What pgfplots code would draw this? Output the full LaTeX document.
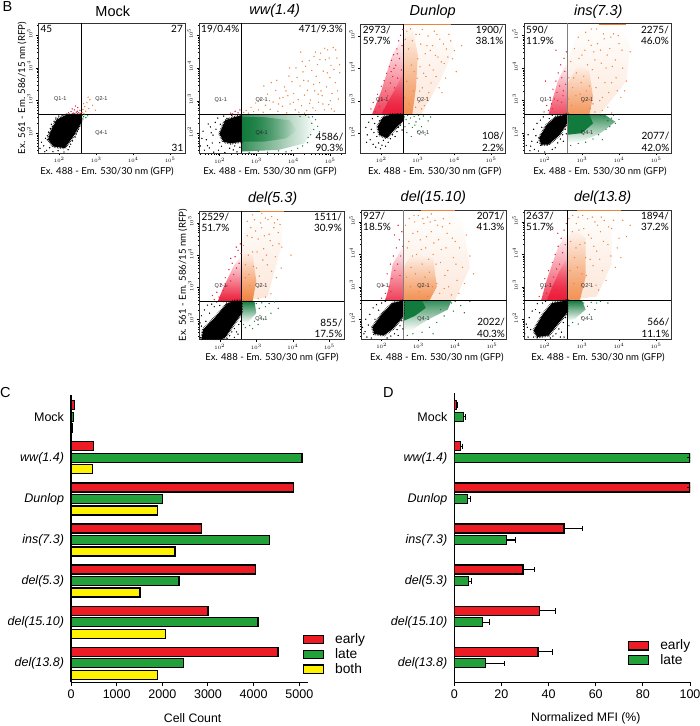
\documentclass[border=0pt]{standalone}
\usepackage{fontspec}
\setmainfont{Liberation Sans}
\newfontfamily\myr{Lato}
\usepackage{pgfplots}
\usetikzlibrary{fadings}
\pgfplotsset{compat=1.18}
% Flow panels: axes are in log10 units, ticks labelled 10^k. Clouds are hand-estimated
% sketches (density regions and representative dots), not the original events.
\definecolor{bred}{HTML}{ED1C24}
\definecolor{bgreen}{HTML}{22A03A}
\definecolor{byel}{HTML}{FFF200}
\definecolor{sred}{HTML}{EC1C3A}
\definecolor{sor}{HTML}{F0813A}
\definecolor{sgr}{HTML}{127A3C}
\newcommand{\fs}[1]{\fontsize{#1}{#1}\selectfont}
\pgfplotsset{
 flow/.style n args={7}{scale only axis,anchor=south west,at={(#1pt,#2pt)},width=#3pt,height=#4pt,
  xmin=1.44,xmax=5.4,ymin=1.39,ymax=5.37,
  xtick={2,3,4,5},xticklabels={$10^2$,$10^3$,$10^4$,$10^5$},
  ytick={2,3,4,5},yticklabels={$10^2$,$10^3$,$10^4$,$10^5$},
  minor xtick={1.48,1.6,1.7,1.78,1.85,1.9,1.95,2.3,2.48,2.6,2.7,2.78,2.85,2.9,2.95,3.3,3.48,3.6,3.7,3.78,3.85,3.9,3.95,4.3,4.48,4.6,4.7,4.78,4.85,4.9,4.95,5.3},
  minor ytick={1.48,1.6,1.7,1.78,1.85,1.9,1.95,2.3,2.48,2.6,2.7,2.78,2.85,2.9,2.95,3.3,3.48,3.6,3.7,3.78,3.85,3.9,3.95,4.3,4.48,4.6,4.7,4.78,4.85,4.9,4.95,5.3},
  tick align=outside,xtick pos=bottom,ytick pos=left,major tick length=2.5pt,minor tick length=1.2pt,
  tick style={line width=.35pt,black},
  axis line style={line width=.7pt,black!80},
  tick label style={font=\fs{5.5}},xticklabel style={yshift=1.5pt},
  yticklabel style={rotate=90,anchor=south,xshift=1.5pt},
  title={#5},title style={at={(axis description cs:.5,1)},anchor=center,yshift=6pt,xshift=#6pt,font=\fs{14.5}},
  xlabel={Ex. 488 - Em. 530/30 nm (GFP)},
  xlabel style={at={(axis description cs:.5,0)},anchor=center,yshift=-18pt,xshift=#7pt,font=\myr\fs{9.6}},
 },
 rfp/.style={ylabel={Ex. 561 - Em. 586/15 nm (RFP)},
  ylabel style={at={(axis description cs:0,.5)},anchor=center,yshift=16.5pt,font=\myr\fs{9.6}}},
 up/.style={fill=#1,draw=none,forget plot,path fading=north},
 dn/.style={fill=#1,draw=none,forget plot,path fading=south},
 ri/.style={fill=#1,draw=none,forget plot,path fading=east},
 kc/.style={fill=black,draw=black,line width=2.6pt,dash pattern=on .5pt off 1.1pt,forget plot},
 k/.style={only marks,mark=*,mark size=.42pt,black,forget plot},
 r/.style={only marks,mark=*,mark size=.42pt,sred,forget plot},
 o/.style={only marks,mark=*,mark size=.42pt,sor,forget plot},
 g/.style={only marks,mark=*,mark size=.4pt,sgr,forget plot},
 bars/.style={scale only axis,anchor=south west,xbar,bar width=9pt,
  axis x line*=bottom,axis y line*=left,
  axis line style={line width=1.2pt,black},
  ymin=-.462,ytick={0,1,2,3,4,5,6},
  yticklabels={\itshape del(13.8),\itshape del(15.10),\itshape del(5.3),\itshape ins(7.3),\itshape Dunlop,\itshape ww(1.4),Mock},
  tick align=outside,ytick style={draw=none},xtick style={line width=1pt,black},major tick length=3.5pt,
  y tick label style={font=\fs{12.5}},x tick label style={font=\fs{12.5}},
  /pgf/number format/1000 sep={},/pgf/number format/assume math mode=true,
  xlabel style={font=\fs{12.3},anchor=center},
  enlargelimits=false,legend cell align=left},
 lg/.style={legend image code/.code={\draw[fill=#1,draw=black,line width=1.3pt] (0pt,-4.2pt) rectangle (20pt,4.2pt);}},
 ser/.style={draw=black,line width=1.3pt,fill=#1,lg=#1},
}
\newcommand{\gate}[1][black]{\addplot[#1,line width=.75pt,forget plot] coordinates {(2.6,1.39)(2.6,5.37)};
 \addplot[black,line width=.75pt,forget plot] coordinates {(1.44,2.58)(5.4,2.58)};}
\newcommand{\qq}[3]{%
 \node[font=\fs{5.5},text=black!85] at (axis cs:2.03,3.03) {Q1-1};
 \node[font=\fs{5.5},text=black!85] at (axis cs:3.14,3.03) {Q2-1};
 \node[font=\fs{5.5},text=black!85] at (axis cs:3.14,2.01) {Q4-1};
 \node[anchor=north west,align=left,font=\myr\fontsize{10}{11.3}\selectfont,inner sep=2pt] at (rel axis cs:0,1) {#1};
 \node[anchor=north east,align=right,font=\myr\fontsize{10}{11.3}\selectfont,inner sep=2pt] at (rel axis cs:1,1) {#2};
 \node[anchor=south east,align=right,font=\myr\fontsize{10}{11.3}\selectfont,inner sep=1.5pt] at (rel axis cs:1,0) {#3};}
\begin{document}
\begin{tikzpicture}[x=1pt,y=1pt]
\path[use as bounding box] (0,0) rectangle (700,726);
\node[anchor=west,font=\fs{14.5}] at (-1,719) {B};
\node[anchor=west,font=\fs{14.5},inner sep=0pt] at (0,333.5) {C};
\node[anchor=west,font=\fs{14.5},inner sep=0pt] at (383,333.5) {D};

% Mock
\begin{axis}[flow={38.5}{573}{146.5}{130}{Mock}{1}{-4.7},rfp]
\addplot[kc] coordinates {(1.75,2)(1.93,2.41)(2.2,2.56)(2.59,2.58)(2.59,2.31)(2.38,1.9)(2.15,1.54)(1.84,1.59)(1.7,1.8)} --cycle;
\addplot[k] coordinates {(1.52,1.72)(1.58,1.61)(1.63,1.84)(1.66,1.47)(1.71,2.03)(1.74,1.55)(1.79,2.27)(1.83,1.43)(1.86,2.36)(1.91,2.46)(1.97,1.46)(1.99,2.52)(2.08,2.55)(2.13,1.42)(2.24,1.49)(2.31,1.66)(2.36,1.76)(2.43,1.88)(2.49,2.05)(2.54,2.21)(2.57,2.37)(1.48,1.53)(1.68,1.92)(1.76,2.14)(2.28,1.58)(1.61,1.43)(2.46,1.97)(2.52,2.12)(1.82,2.19)(1.9,2.33)};
\addplot[r] coordinates {(2.25,2.62)(2.32,2.66)(2.38,2.61)(2.41,2.71)(2.46,2.64)(2.5,2.78)(2.53,2.62)(2.56,2.7)(2.44,2.83)(2.58,2.6)(2.35,2.74)(2.49,2.67)};
\addplot[o] coordinates {(2.62,2.63)(2.64,2.72)(2.67,2.6)(2.69,2.81)(2.72,2.67)(2.75,2.93)(2.8,2.75)(2.83,3.02)(2.9,2.85)(2.98,2.7)(2.66,2.9)(2.78,3.1)};
\addplot[g] coordinates {(2.62,2.55)(2.66,2.5)(2.69,2.56)(2.72,2.47)(2.64,2.43)(2.77,2.53)};
\gate
\qq{45}{27}{31}
\end{axis}

% ww(1.4)
\begin{axis}[flow={199}{572.5}{146}{130.5}{\itshape ww(1.4)}{2.7}{-2}]
\addplot[kc] coordinates {(2.0,2.0)(2.15,2.4)(2.4,2.5)(2.6,2.55)(2.6,1.75)(2.3,1.7)(2.1,1.75)} --cycle;
\addplot[ri=sgr,fill opacity=.85] coordinates {(2.6,2.58)(4.4,2.58)(4.6,2.2)(4.3,1.7)(3.6,1.5)(2.6,1.45)} --cycle;
\addplot[ri=sgr] coordinates {(2.6,2.5)(3.2,2.5)(3.9,2.4)(4.1,2.1)(3.8,1.85)(3.2,1.75)(2.6,1.75)} --cycle;
\addplot[k] coordinates {(1.48,1.62)(1.55,2.07)(1.59,1.49)(1.64,1.81)(1.69,2.29)(1.72,1.56)(1.77,2.02)(1.8,1.71)(1.84,1.43)(1.88,2.34)(1.9,2.13)(1.95,2.47)(1.97,1.49)(2.02,2.28)(2.05,1.61)(2.11,2.53)(2.14,1.42)(2.2,2.46)(2.27,1.55)(2.33,2.55)(2.41,1.62)(2.47,1.44)(2.55,1.58)(2.58,2.56)(1.52,1.85)(1.67,1.63)(1.75,2.2)(1.82,1.95)(2.0,1.72)(2.37,1.5)};
\addplot[g] coordinates {(4.42,2.5)(4.5,2.31)(4.55,2.12)(4.6,2.42)(4.47,1.96)(4.38,1.72)(4.25,1.62)(4.12,1.55)(3.95,1.48)(3.8,1.44)(3.6,1.47)(3.3,1.43)(4.66,2.22)(4.33,2.55)(4.71,2.05)(3.05,1.46)(2.8,1.43)(4.18,2.52)(4.4,1.88)(4.52,2.51)};
\addplot[o] coordinates {(2.65,2.64)(2.72,2.7)(2.78,2.62)(2.85,2.8)(2.92,2.67)(2.98,2.93)(3.05,2.72)(3.11,3.05)(3.18,2.65)(3.24,2.86)(3.3,3.2)(3.37,2.74)(3.45,2.96)(3.52,3.31)(3.58,2.68)(3.63,3.08)(3.7,2.83)(3.76,3.42)(3.82,2.63)(3.85,3.15)(3.91,2.9)(3.96,3.58)(4.01,3.22)(4.05,2.72)(4.1,3.71)(4.13,3.03)(4.18,3.45)(4.22,2.85)(4.26,3.88)(4.3,3.17)(4.33,4.05)(4.36,2.7)(4.4,3.6)(4.43,4.22)(4.46,3.02)(4.5,3.92)(4.53,2.78)(4.56,4.35)(4.58,3.3)(4.62,3.74)(4.65,4.1)(4.68,2.95)(4.71,3.55)(4.74,4.45)(4.78,3.15)(4.81,3.9)(4.84,2.72)(4.87,4.25)(4.9,3.42)(4.93,4.55)(4.96,2.88)(4.99,3.7)(5.02,4.08)(5.05,3.22)(5.08,4.62)(5.11,2.68)(5.14,3.55)(5.18,4.3)(5.22,3.05)(5.26,3.85)(3.4,3.55)(3.6,2.9)(3.9,4.0)(4.2,4.48)(4.0,2.95)(4.3,2.62)(3.2,3.45)(4.75,3.3)(5.0,3.0)(4.6,2.7)(3.55,3.62)(3.72,3.1)(3.88,3.75)(4.07,4.0)(4.15,2.65)(4.24,4.2)(4.38,3.32)(4.44,2.92)(4.55,3.5)(4.6,4.48)(4.67,3.2)(4.72,4.25)(4.8,2.9)(4.85,4.6)(4.92,3.85)(4.97,4.3)(5.03,2.75)(5.1,3.95)(5.15,4.55)(5.2,3.3)(5.25,4.1)(4.28,3.62)(3.35,3.0)(3.8,3.3)};
\addplot[r] coordinates {(2.3,2.62)(2.42,2.68)(2.5,2.63)(2.55,2.72)(2.35,2.6)};
\gate
\qq{19/0.4\%}{471/9.3\%}{4586/\\90.3\%}
\end{axis}

% Dunlop
\begin{axis}[flow={360.7}{573}{145}{129}{\itshape Dunlop}{-.5}{1.5}]
\addplot[up=sred,fill opacity=.85] coordinates {(1.75,2.58)(2.6,2.58)(2.6,5.0)(2.3,4.4)(2.0,3.3)} --cycle;
\addplot[up=sred] coordinates {(2.0,2.58)(2.6,2.58)(2.6,3.9)(2.45,3.5)(2.2,3.0)} --cycle;
\addplot[up=sor,fill opacity=.2] coordinates {(2.6,2.58)(3.1,2.6)(3.6,3.6)(4.0,4.6)(3.8,5.37)(2.6,5.37)} --cycle;
\addplot[up=sor,fill opacity=.85] coordinates {(2.6,2.58)(2.85,2.58)(2.95,3.4)(3.0,4.4)(2.85,5.3)(2.6,5.37)} --cycle;
\addplot[kc] coordinates {(1.9,2.2)(2.05,2.5)(2.3,2.58)(2.6,2.58)(2.6,2.4)(2.35,2.1)(2.15,1.85)(1.95,1.95)} --cycle;
\addplot[k] coordinates {(1.58,2.18)(1.62,1.95)(1.66,2.34)(1.7,1.8)(1.73,2.12)(1.76,2.45)(1.78,1.66)(1.82,2.3)(1.85,1.57)(1.88,1.9)(1.91,2.52)(1.93,1.7)(1.98,1.52)(2.02,1.63)(2.06,1.78)(2.12,1.6)(2.19,1.72)(2.25,1.83)(2.31,1.95)(2.38,1.9)(2.43,2.05)(2.47,2.18)(2.53,2.25)(2.57,2.1)(1.8,2.02)(1.95,2.38)(2.0,2.28)(2.15,1.9)(2.45,2.32)(1.6,1.72)};
\addplot[r] coordinates {(1.72,2.75)(1.78,2.95)(1.84,2.66)(1.9,3.2)(1.95,2.82)(2.0,3.45)(2.03,3.05)(2.08,3.62)(2.12,3.3)(2.15,3.85)(2.19,2.95)(2.22,4.05)(2.25,3.55)(2.28,4.25)(2.31,3.75)(2.34,4.42)(2.37,3.4)(2.4,4.1)(2.43,4.6)(2.45,3.7)(2.48,4.85)(2.5,4.3)(2.53,5.02)(2.55,3.95)(2.57,4.7)(2.59,5.2)(2.18,3.15)(2.27,3.9)(2.35,4.0)(2.44,4.45)};
\addplot[o] coordinates {(2.66,4.9)(2.7,5.15)(2.75,4.6)(2.8,5.22)(2.85,4.85)(2.9,3.9)(2.95,5.05)(3.0,4.3)(3.05,3.3)(3.08,4.75)(3.12,5.2)(3.16,3.85)(3.2,4.45)(3.24,3.1)(3.28,5.0)(3.32,4.1)(3.36,3.55)(3.4,4.7)(3.45,5.15)(3.5,3.75)(3.55,4.35)(3.6,4.9)(3.66,3.25)(3.72,4.15)(3.78,4.6)(3.85,5.05)(3.95,4.3)(4.05,3.9)(4.2,4.7)(3.1,2.75)(2.64,3.1)(2.7,3.6)(2.76,2.9)(2.82,4.1)(2.88,3.3)(2.94,2.8)(2.98,3.7)(3.02,2.95)(3.06,4.05)(3.12,3.4)(3.18,2.85)(3.22,3.75)(3.3,3.25)(3.34,4.55)(3.42,3.95)(3.48,4.4)(3.58,3.4)(3.64,4.2)(3.7,4.75)(3.76,3.7)(3.82,4.35)(3.9,4.85)(4.0,4.55)(3.52,5.05)(3.25,4.7)(3.05,5.05)};
\addplot[sor,line width=1pt,forget plot] coordinates {(2.62,5.35)(3.9,5.35)};
\addplot[g] coordinates {(2.63,2.5)(2.68,2.42)(2.72,2.55)(2.76,2.3)(2.8,2.47)(2.85,2.18)(2.9,2.52)(2.95,2.35)(3.0,2.05)(3.05,2.44)(3.1,2.2)(3.15,2.53)(3.2,1.95)(3.28,2.38)(2.65,2.2)(2.7,2.02)(2.82,1.9)(2.92,2.25)(3.35,2.5)(3.02,2.55)};
\gate
\qq{2973/\\59.7\%}{1900/\\38.1\%}{108/\\2.2\%}
\end{axis}

% ins(7.3)
\begin{axis}[flow={524}{573}{147}{129.5}{\itshape ins(7.3)}{.8}{2.5}]
\addplot[up=sred,fill opacity=.8] coordinates {(2.1,2.58)(2.6,2.58)(2.6,4.2)(2.35,3.6)(2.2,3.0)} --cycle;
\addplot[up=sor,fill opacity=.18] coordinates {(2.6,2.58)(3.5,2.6)(4.2,3.6)(4.3,4.7)(4,5.37)(3,5.37)(2.6,4.2)} --cycle;
\addplot[up=sor,fill opacity=.8] coordinates {(2.6,2.58)(3.2,2.58)(3.3,3.1)(3.2,3.9)(2.9,4.1)(2.6,3.5)} --cycle;
\addplot[dn=sgr,fill opacity=.85] coordinates {(2.6,2.58)(3.6,2.58)(3.9,2.35)(3.5,2.0)(3.0,1.75)(2.6,1.7)} --cycle;
\addplot[fill=sgr,draw=none,forget plot] coordinates {(2.6,2.58)(3.2,2.58)(3.3,2.3)(3.0,2.0)(2.6,1.95)} --cycle;
\addplot[kc] coordinates {(1.85,1.85)(2.05,2.25)(2.3,2.5)(2.6,2.58)(2.6,2.3)(2.4,1.95)(2.1,1.65)(1.9,1.65)} --cycle;
\addplot[k] coordinates {(1.5,1.62)(1.55,1.95)(1.6,1.46)(1.65,1.75)(1.7,2.12)(1.72,1.5)(1.76,1.92)(1.79,2.3)(1.83,1.45)(1.88,2.4)(1.92,2.18)(1.96,2.5)(2.0,1.42)(2.12,2.45)(2.2,2.55)(2.28,1.55)(2.35,1.7)(2.42,1.82)(2.48,1.95)(2.55,2.12)(2.58,1.98)(2.2,1.5)(1.62,1.6)(1.8,1.72)(2.5,1.75)};
\addplot[r] coordinates {(1.98,2.65)(2.05,2.85)(2.1,2.7)(2.14,3.1)(2.18,2.9)(2.22,3.35)(2.26,3.05)(2.3,3.6)(2.33,3.25)(2.36,3.85)(2.4,3.45)(2.43,4.1)(2.46,3.7)(2.49,3.15)(2.52,4.3)(2.54,3.9)(2.56,3.5)(2.58,4.5)(2.3,4.55)(2.02,3.6)(2.2,2.75)(2.35,3.0)(2.5,3.3)(2.45,2.95)};
\addplot[o] coordinates {(2.65,3.7)(2.7,4.2)(2.75,3.4)(2.8,4.6)(2.85,3.85)(2.9,4.95)(2.95,3.2)(3.0,4.4)(3.05,3.75)(3.1,5.1)(3.15,4.1)(3.2,3.45)(3.25,4.7)(3.3,2.9)(3.35,4.25)(3.4,5.2)(3.45,3.7)(3.5,4.55)(3.55,3.1)(3.6,4.9)(3.65,4.0)(3.7,2.8)(3.75,4.6)(3.8,3.55)(3.85,5.05)(3.9,4.25)(3.95,3.3)(4.0,4.75)(4.1,4.0)(4.2,3.6)(4.3,4.5)(3.35,2.65)(3.55,2.7)(3.8,2.62)(4.05,3.1)(2.64,3.05)(2.72,2.85)(2.78,3.7)(2.84,3.15)(2.92,4.3)(2.98,3.55)(3.02,2.95)(3.08,4.55)(3.12,3.3)(3.18,4.85)(3.22,2.75)(3.28,3.95)(3.32,4.5)(3.38,3.4)(3.42,4.75)(3.48,3.0)(3.52,4.15)(3.58,5.05)(3.62,3.55)(3.68,4.4)(3.72,3.25)(3.78,4.95)(3.82,4.05)(3.92,3.7)(3.98,5.0)(4.08,4.55)(4.15,3.3)(3.25,5.2)};
\addplot[sor,line width=1pt,forget plot] coordinates {(3.45,5.35)(4.2,5.35)};
\addplot[g] coordinates {(3.6,2.5)(3.7,2.38)(3.8,2.46)(3.9,2.3)(4.0,2.42)(3.65,2.12)(3.45,1.95)(3.3,1.82)(3.1,1.72)(2.9,1.68)(2.7,1.62)(3.5,2.55)(3.85,2.55)(3.75,2.2)(3.55,1.8)};
\gate[black!50]
\qq{590/\\11.9\%}{2275/\\46.0\%}{2077/\\42.0\%}
\end{axis}

% del(5.3)
\begin{axis}[flow={199.3}{386.7}{144.7}{128.3}{\itshape del(5.3)}{1}{.3},rfp]
\addplot[up=sred] coordinates {(1.95,2.58)(2.6,2.58)(2.6,4.0)(2.4,3.7)(2.1,3.0)} --cycle;
\addplot[up=sor,fill opacity=.2] coordinates {(2.6,2.58)(3.3,2.7)(3.7,4.3)(3.7,5.2)(3.0,5.37)(2.6,4.5)} --cycle;
\addplot[up=sor] coordinates {(2.6,2.58)(2.9,2.58)(3.0,3.2)(2.9,4.0)(2.65,4.1)(2.6,3.5)} --cycle;
\addplot[dn=sgr] coordinates {(2.6,2.58)(2.95,2.58)(3.0,2.2)(2.75,1.9)(2.6,1.95)} --cycle;
\addplot[kc] coordinates {(1.5,1.39)(1.55,1.7)(1.9,2.1)(2.2,2.5)(2.4,2.58)(2.6,2.58)(2.6,2.2)(2.35,1.8)(2.15,1.45)(2.05,1.39)} --cycle;
\addplot[k] coordinates {(1.46,1.9)(1.5,2.12)(1.53,1.6)(1.58,2.3)(1.62,1.95)(1.66,2.45)(1.72,2.2)(1.78,2.48)(1.85,2.4)(1.92,2.55)(2.0,2.44)(2.1,2.56)(2.2,1.42)(2.27,1.5)(2.33,1.62)(2.4,1.72)(2.46,1.62)(2.52,1.85)(2.57,1.95)(2.4,1.45)(1.48,1.44)(1.75,1.55)(1.5,1.8)(2.5,1.55)};
\addplot[r] coordinates {(1.85,2.62)(1.92,2.85)(1.98,2.7)(2.05,3.1)(2.1,2.9)(2.15,3.3)(2.2,3.05)(2.25,3.55)(2.3,3.2)(2.34,3.75)(2.38,3.4)(2.42,3.95)(2.46,3.6)(2.5,4.15)(2.53,3.75)(2.56,4.35)(2.58,4.05)(2.3,3.9)(2.45,4.25)(1.8,2.75)};
\addplot[o] coordinates {(2.65,4.3)(2.7,3.7)(2.75,4.6)(2.8,3.4)(2.85,4.85)(2.9,4.1)(2.95,5.1)(3.0,3.6)(3.05,4.5)(3.1,3.05)(3.15,4.85)(3.2,4.2)(3.25,5.15)(3.3,3.7)(3.35,4.65)(3.4,2.8)(3.45,4.3)(3.5,5.0)(3.55,3.3)(3.6,4.7)(3.65,4.95)(3.7,4.25)(3.95,4.0)(3.25,2.7)(3.05,2.65)(2.75,5.05)(3.42,5.2)(2.9,5.25)(3.15,5.3)(2.7,3.3)(2.78,4.0)(2.82,3.05)(2.88,4.55)(2.92,3.65)(2.98,4.75)(3.02,4.1)(3.08,3.35)(3.12,5.0)(3.18,3.85)(3.22,4.6)(3.28,4.0)(3.32,5.1)(3.38,4.45)(3.42,3.5)(3.48,4.85)(3.52,3.95)(3.58,5.1)(3.62,4.35)(3.68,3.6)};
\addplot[sor,line width=1pt,forget plot] coordinates {(3.1,5.35)(3.75,5.35)};
\addplot[g] coordinates {(3.0,2.5)(3.08,2.35)(3.15,2.52)(3.25,2.4)(3.35,2.5)(3.5,2.55)(3.6,2.35)(3.1,2.12)(2.95,1.95)(2.82,1.82)(2.7,1.75)(2.65,1.85)(2.9,1.72)(3.2,2.0)(3.4,2.2)(3.05,1.85)};
\gate
\qq{2529/\\51.7\%}{1511/\\30.9\%}{855/\\17.5\%}
\end{axis}

% del(15.10)
\begin{axis}[flow={361}{387}{145.7}{129}{\itshape del(15.10)}{-.5}{3}]
\addplot[up=sred,fill opacity=.85] coordinates {(2.1,2.58)(2.6,2.58)(2.6,4.3)(2.3,3.7)(2.2,3.0)} --cycle;
\addplot[up=sor,fill opacity=.18] coordinates {(2.6,2.58)(4,2.6)(4.4,3.6)(4.2,5)(3.8,5.37)(2.6,5.37)} --cycle;
\addplot[up=sor,fill opacity=.85] coordinates {(2.6,2.58)(3.3,2.58)(3.5,3.0)(3.4,3.9)(2.8,4.0)(2.6,3.6)} --cycle;
\addplot[dn=sgr,fill opacity=.85] coordinates {(2.6,2.58)(3.9,2.58)(3.8,2.3)(3.2,1.95)(2.8,1.65)(2.6,1.65)} --cycle;
\addplot[fill=sgr,draw=none,forget plot] coordinates {(2.6,2.58)(3.1,2.58)(3.2,2.35)(2.9,2.1)(2.6,1.95)} --cycle;
\addplot[kc] coordinates {(1.75,1.75)(2.0,2.15)(2.3,2.5)(2.6,2.58)(2.6,2.1)(2.3,1.7)(2.05,1.5)(1.8,1.55)} --cycle;
\addplot[k] coordinates {(1.48,1.75)(1.52,1.55)(1.57,2.0)(1.6,1.45)(1.64,1.82)(1.68,2.15)(1.72,1.42)(1.77,2.35)(1.82,2.0)(1.86,2.45)(1.92,2.28)(2.0,2.5)(2.1,2.55)(2.15,1.42)(2.25,1.48)(2.35,1.55)(2.42,1.68)(2.5,1.8)(2.55,1.95)(2.58,1.7)(2.45,1.5)(1.55,1.62)};
\addplot[r] coordinates {(2.0,2.65)(2.05,3.05)(2.1,2.8)(2.15,3.4)(2.2,3.0)(2.24,3.7)(2.28,3.25)(2.32,3.95)(2.36,3.5)(2.4,4.2)(2.44,3.7)(2.48,4.45)(2.52,3.95)(2.55,4.7)(2.58,4.25)(2.35,4.6)(2.45,4.9)(2.5,3.35)(2.12,2.62)(2.25,2.85)};
\addplot[o] coordinates {(2.65,4.9)(2.7,4.2)(2.75,5.1)(2.8,3.6)(2.85,4.65)(2.9,5.0)(2.95,4.0)(3.0,5.2)(3.05,4.45)(3.1,3.7)(3.15,4.95)(3.2,4.2)(3.25,5.15)(3.3,3.45)(3.35,4.7)(3.4,4.0)(3.45,5.05)(3.5,3.1)(3.55,4.45)(3.6,3.75)(3.65,4.85)(3.7,2.95)(3.75,4.2)(3.8,3.5)(3.85,4.95)(3.9,2.75)(3.95,3.9)(4.0,4.4)(4.05,3.2)(4.1,2.8)(4.2,3.6)(4.3,4.6)(4.5,3.4)(4.65,4.8)(3.25,2.7)(2.68,3.3)(2.74,4.4)(2.78,3.0)(2.84,3.95)(2.88,5.2)(2.92,3.4)(2.98,4.7)(3.02,2.85)(3.08,4.15)(3.12,5.1)(3.18,3.3)(3.22,4.55)(3.28,3.85)(3.32,5.0)(3.38,3.0)(3.42,4.35)(3.48,3.7)(3.52,4.9)(3.58,2.8)(3.62,4.15)(3.68,5.1)(3.72,3.35)(3.78,4.65)(3.82,3.0)(3.92,4.5)(4.02,3.7)(4.12,4.2)(4.25,3.1)(4.4,3.95)(3.35,5.25)};
\addplot[sor,line width=1pt,forget plot] coordinates {(3.08,5.35)(4.0,5.35)};
\addplot[g] coordinates {(3.9,2.5)(4.0,2.55)(4.15,2.42)(3.7,2.1)(3.5,1.9)(3.3,1.75)(3.1,1.6)(2.85,1.55)(3.6,2.3)(4.25,2.2)(3.95,2.25)(2.7,1.5)(3.4,1.55)(4.4,2.55)};
\gate[black!50]
\qq{927/\\18.5\%}{2071/\\41.3\%}{2022/\\40.3\%}
\end{axis}

% del(13.8)
\begin{axis}[flow={524}{387}{147}{129}{\itshape del(13.8)}{5.2}{.5}]
\addplot[up=sred,fill opacity=.85] coordinates {(1.9,2.58)(2.6,2.58)(2.6,4.7)(2.35,4.2)(2.05,3.2)} --cycle;
\addplot[up=sred] coordinates {(2.05,2.58)(2.6,2.58)(2.6,3.9)(2.4,3.5)(2.2,3.0)} --cycle;
\addplot[up=sor,fill opacity=.2] coordinates {(2.6,2.58)(3.4,2.7)(3.8,3.7)(3.8,5.0)(3.2,5.37)(2.6,5.37)} --cycle;
\addplot[up=sor,fill opacity=.85] coordinates {(2.6,2.58)(2.95,2.6)(3.1,3.3)(3.1,4.5)(2.8,4.8)(2.6,4.5)} --cycle;
\addplot[dn=sgr] coordinates {(2.6,2.58)(3.0,2.58)(3.1,2.3)(2.8,2.0)(2.6,1.95)} --cycle;
\addplot[kc] coordinates {(1.7,1.65)(1.95,2.15)(2.2,2.5)(2.6,2.58)(2.6,2.2)(2.35,1.85)(2.1,1.5)(1.8,1.45)} --cycle;
\addplot[k] coordinates {(1.46,1.55)(1.5,1.85)(1.55,1.45)(1.58,2.05)(1.62,1.68)(1.66,2.25)(1.7,1.45)(1.75,2.3)(1.8,2.48)(1.86,2.2)(1.94,2.5)(2.02,2.55)(2.15,1.42)(2.22,1.48)(2.3,1.55)(2.38,1.7)(2.45,1.6)(2.5,1.9)(2.56,2.05)(2.52,1.45)(1.53,1.75)(2.42,1.45)};
\addplot[r] coordinates {(1.85,2.7)(1.92,2.95)(2.0,3.25)(2.05,2.8)(2.1,3.5)(2.15,3.1)(2.2,3.75)(2.24,3.3)(2.28,4.0)(2.32,3.55)(2.36,4.25)(2.4,3.7)(2.44,4.5)(2.48,4.05)(2.52,4.75)(2.55,4.3)(2.58,4.95)(2.35,4.65)(2.15,4.75)(2.3,2.9)};
\addplot[o] coordinates {(2.65,5.1)(2.7,4.4)(2.75,5.2)(2.8,3.9)(2.85,4.95)(2.9,5.15)(2.95,4.3)(3.0,3.4)(3.05,4.8)(3.1,3.9)(3.15,5.1)(3.2,3.1)(3.25,4.5)(3.3,3.65)(3.35,5.0)(3.4,4.1)(3.45,2.9)(3.5,4.7)(3.55,3.5)(3.6,5.05)(3.7,4.3)(3.8,4.8)(3.9,3.6)(4.0,4.5)(4.1,5.05)(4.3,4.9)(2.68,3.5)(2.74,4.7)(2.78,3.1)(2.84,4.2)(2.88,3.6)(2.92,4.75)(2.98,3.0)(3.02,5.2)(3.08,4.35)(3.12,3.35)(3.18,4.6)(3.22,3.85)(3.28,5.15)(3.32,4.25)(3.38,3.05)(3.42,4.9)(3.48,3.85)(3.52,5.15)(3.58,4.4)(3.65,3.2)(3.72,4.85)(3.78,3.95)(3.85,5.05)(3.95,4.2)(4.05,3.9)(4.2,4.55)};
\addplot[sor,line width=1pt,forget plot] coordinates {(2.87,5.35)(4.05,5.35)};
\addplot[g] coordinates {(3.05,2.5)(3.15,2.4)(3.25,2.52)(3.35,2.3)(3.4,2.5)(3.0,2.05)(2.9,1.85)(2.75,1.9)(3.2,2.15)(3.5,2.55)(2.65,1.8)(3.7,2.5)};
\gate
\qq{2637/\\51.7\%}{1894/\\37.2\%}{566/\\11.1\%}
\end{axis}

% C
\begin{axis}[bars,at={(71pt,43.7pt)},width=237.3pt,height=287.3pt,xmin=0,xmax=5197,ymax=6.528,
 xtick={0,1000,2000,3000,4000,5000},xlabel={Cell Count},
 xlabel style={at={(axis description cs:.5,0)},yshift=-36pt,xshift=3pt},
 legend style={at={(.976,.175)},anchor=north west,draw=none,fill=none,font=\fs{13.8},inner sep=0pt,
  nodes={inner sep=0pt,minimum height=14.8pt},/tikz/column 2/.style={column sep=0pt}},
 legend columns=1]
\addplot[ser=bred,bar shift=11.5pt] coordinates {(4531,0)(2998,1)(4040,2)(2865,3)(4873,4)(490,5)(72,6)};
\addplot[ser=bgreen,bar shift=0pt] coordinates {(2460,0)(4093,1)(2366,2)(4352,3)(2008,4)(5057,5)(58,6)};
\addplot[ser=byel,bar shift=-11.5pt] coordinates {(1894,0)(2071,1)(1511,2)(2275,3)(1900,4)(471,5)(27,6)};
\legend{\hspace{11pt}early,\hspace{11pt}late,\hspace{11pt}both}
\end{axis}

% D
\begin{axis}[bars,at={(454.3pt,43.7pt)},width=235.7pt,height=289pt,xmin=0,xmax=100,ymax=6.57,
 xtick={0,20,40,60,80,100},xlabel={Normalized MFI (\%)},
 xlabel style={at={(axis description cs:.5,0)},yshift=-36pt,xshift=13.7pt},
 legend style={at={(.736,.152)},anchor=north west,draw=none,fill=none,font=\fs{13.8},inner sep=0pt,
  nodes={inner sep=0pt,minimum height=14.3pt}},
 legend columns=1]
\addplot[ser=bred,bar shift=11.5pt,error bars/.cd,x dir=plus,x explicit,error bar style={line width=1.1pt,black},error mark options={black,line width=1.1pt,mark size=2.8pt,rotate=90}] coordinates {(35.5,0)+-(6,0)(36,1)+-(7,0)(29.2,2)+-(4.8,0)(46.6,3)+-(7.9,0)(100,4)+-(0,0)(2.6,5)+-(1,0)(1,6)+-(.3,0)};
\addplot[ser=bgreen,bar shift=0pt,error bars/.cd,x dir=plus,x explicit,error bar style={line width=1.1pt,black},error mark options={black,line width=1.1pt,mark size=2.8pt,rotate=90}] coordinates {(13.2,0)+-(8.2,0)(12,1)+-(3,0)(6,2)+-(1.4,0)(22,3)+-(4,0)(5.6,4)+-(1.2,0)(100,5)+-(0,0)(3.8,6)+-(.8,0)};
\legend{\hspace{11pt}early,\hspace{11pt}late}
\end{axis}
\end{tikzpicture}
\end{document}
